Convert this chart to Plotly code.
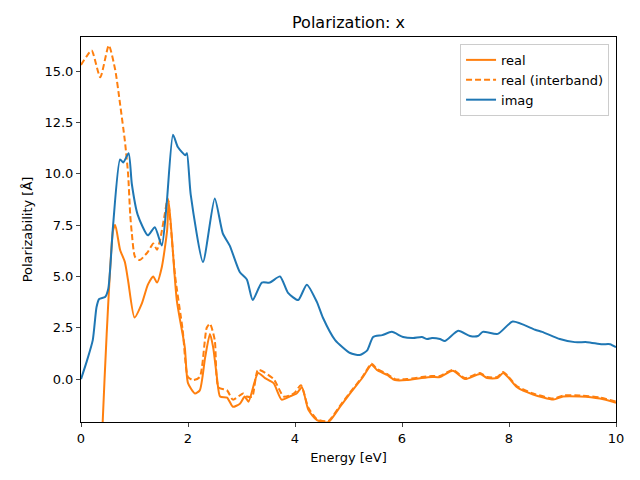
import plotly.graph_objects as go

# imaginary part
imag_x = [0.00, 0.10, 0.22, 0.29, 0.34, 0.45, 0.51, 0.60, 0.73, 0.79, 0.89, 0.95, 1.06, 1.25, 1.38, 1.51, 1.60,
          1.72, 1.81, 1.95, 1.98, 2.05, 2.28, 2.50, 2.65, 2.78, 2.97, 3.10, 3.21, 3.38, 3.53, 3.72, 3.87,
          4.06, 4.22, 4.41, 4.52, 4.75, 5.03, 5.21, 5.35, 5.46, 5.63, 5.81, 6.02, 6.21, 6.37, 6.47, 6.56,
          6.71, 6.80, 7.05, 7.27, 7.42, 7.51, 7.79, 8.07, 8.49, 8.62, 8.95, 9.23, 9.46, 9.74, 9.89, 10.00]
imag_y = [0.00, 0.80, 1.90, 3.50, 3.90, 4.00, 4.40, 7.50, 10.70, 10.55, 11.00, 9.50, 8.00, 7.00, 7.40, 6.50, 8.50,
          11.90, 11.30, 10.90, 11.00, 9.00, 5.70, 8.80, 7.10, 6.50, 5.20, 4.85, 3.85, 4.70, 4.70, 5.00, 4.20,
          3.85, 4.60, 3.75, 3.00, 1.90, 1.27, 1.17, 1.40, 2.05, 2.14, 2.30, 2.05, 2.00, 2.05, 1.95, 2.00,
          1.95, 1.85, 2.35, 2.10, 2.10, 2.30, 2.20, 2.80, 2.40, 2.30, 1.95, 1.80, 1.80, 1.70, 1.70, 1.55]

# real part
real_x = [0.05, 0.20, 0.30, 0.405, 0.48, 0.60, 0.64, 0.73, 0.82, 0.88, 1.00, 1.14, 1.25, 1.35, 1.42, 1.51, 1.61,
          1.64, 1.79, 1.94, 2.00, 2.13, 2.22, 2.32, 2.41, 2.47, 2.54, 2.60, 2.73, 2.84, 2.97, 3.06, 3.13,
          3.31, 3.44, 3.60, 3.75, 3.90, 4.03, 4.13, 4.25, 4.41, 4.62, 4.84, 5.03, 5.27, 5.43, 5.53, 5.72,
          5.87, 6.09, 6.37, 6.56, 6.71, 6.95, 7.18, 7.46, 7.59, 7.78, 7.89, 7.98, 8.15, 8.45, 8.83, 9.01,
          9.33, 9.70, 10.00]
real_y = [-40.0, -20.0, -9.0, -2.10, 2.20, 7.25, 7.50, 6.30, 5.70, 4.80, 3.00, 3.70, 4.60, 5.00, 4.70, 5.45, 7.25,
          8.70, 3.85, 1.55, -0.20, -0.70, -0.55, 1.05, 2.20, 1.55, 0.10, -0.85, -0.90, -1.35, -1.20, -0.85, -1.10,
          0.30, 0.05, -0.20, -1.00, -0.85, -0.70, -0.40, -1.50, -2.00, -2.10, -1.35, -0.70, 0.10, 0.70, 0.45, 0.20,
          -0.05, -0.05, 0.05, 0.10, 0.10, 0.40, 0.00, 0.25, 0.05, 0.05, 0.30, 0.10, -0.40, -0.75, -1.00, -0.85,
          -0.85, -0.95, -1.15]

# real part (interband)
inter_x = [0.00, 0.10, 0.20, 0.36, 0.52, 0.64, 0.73, 0.82, 0.88, 0.92, 0.95, 1.01, 1.10, 1.25, 1.35, 1.42, 1.48,
           1.57, 1.62, 1.76, 1.90, 2.00, 2.10, 2.22, 2.35, 2.41, 2.50, 2.57, 2.73, 2.84, 3.03, 3.10, 3.20,
           3.31, 3.60, 3.79, 3.98, 4.11, 4.25, 4.41, 4.62, 4.84, 5.03, 5.27, 5.43, 5.53, 5.72, 5.87, 6.09,
           6.37, 6.56, 6.71, 6.95, 7.18, 7.46, 7.59, 7.78, 7.89, 7.98, 8.15, 8.45, 8.83, 9.01, 9.33, 9.70, 10.00]
inter_y = [15.30, 15.70, 16.00, 14.70, 16.25, 15.05, 13.40, 11.60, 10.00, 8.00, 7.10, 5.95, 5.80, 6.20, 6.60, 6.30, 6.80,
           8.10, 8.80, 5.00, 2.40, 0.10, -0.05, 0.10, 2.50, 2.70, 1.90, -0.40, -0.55, -1.00, -0.70, -0.85, -0.85,
           0.45, 0.00, -0.85, -0.70, -0.30, -1.40, -1.95, -2.05, -1.30, -0.65, 0.15, 0.75, 0.50, 0.25,
           0.00, 0.00, 0.10, 0.15, 0.15, 0.45, 0.05, 0.30, 0.10, 0.10, 0.35, 0.15, -0.35, -0.70, -0.95, -0.80,
           -0.80, -0.90, -1.10]

orange = "#ff7f0e"
blue = "#1f77b4"

fig = go.Figure()
fig.add_trace(go.Scatter(x=real_x, y=real_y, mode="lines", name="real",
                         line=dict(color=orange, width=2, shape="spline", smoothing=0.6)))
fig.add_trace(go.Scatter(x=inter_x, y=inter_y, mode="lines", name="real (interband)",
                         line=dict(color=orange, width=2, dash="6px,3px", shape="spline", smoothing=0.6)))
fig.add_trace(go.Scatter(x=imag_x, y=imag_y, mode="lines", name="imag",
                         line=dict(color=blue, width=2, shape="spline", smoothing=0.6)))

# page body adds an 8px offset; compensate so the plot lands where the reference has it
font = "DejaVu Sans"
fig.update_layout(
    width=624, height=464,
    margin=dict(l=73, r=16, t=29, b=50, autoexpand=False),
    paper_bgcolor="white", plot_bgcolor="white",
    font=dict(family=font, size=13, color="black"),
    title=dict(text="Polarization: x", x=(73 + 608) / 2 / 624, xanchor="center",
               y=1 - 14 / 464, yanchor="middle", yref="container", font=dict(size=16)),
    showlegend=True,
    legend=dict(x=0.987, y=0.982, xanchor="right", yanchor="top",
                bordercolor="#cccccc", borderwidth=1, bgcolor="rgba(255,255,255,0.8)",
                font=dict(size=13)),
)
fig.update_xaxes(range=[0, 10], tickvals=[0, 2, 4, 6, 8, 10], ticks="outside", ticklen=4,
                 showline=True, linecolor="black", linewidth=1, mirror=True, showgrid=False,
                 zeroline=False, automargin=False,
                 title=dict(text="Energy [eV]", standoff=8, font=dict(size=13)))
fig.update_yaxes(range=[-2.09, 16.66], tickvals=[0, 2.5, 5, 7.5, 10, 12.5, 15],
                 ticktext=["0.0", "2.5", "5.0", "7.5", "10.0", "12.5", "15.0"],
                 ticks="outside", ticklen=4,
                 showline=True, linecolor="black", linewidth=1, mirror=True, showgrid=False,
                 zeroline=False, automargin=False,
                 title=dict(text="Polarizability [Å]", standoff=8, font=dict(size=13)))

fig.write_html("out.html")
